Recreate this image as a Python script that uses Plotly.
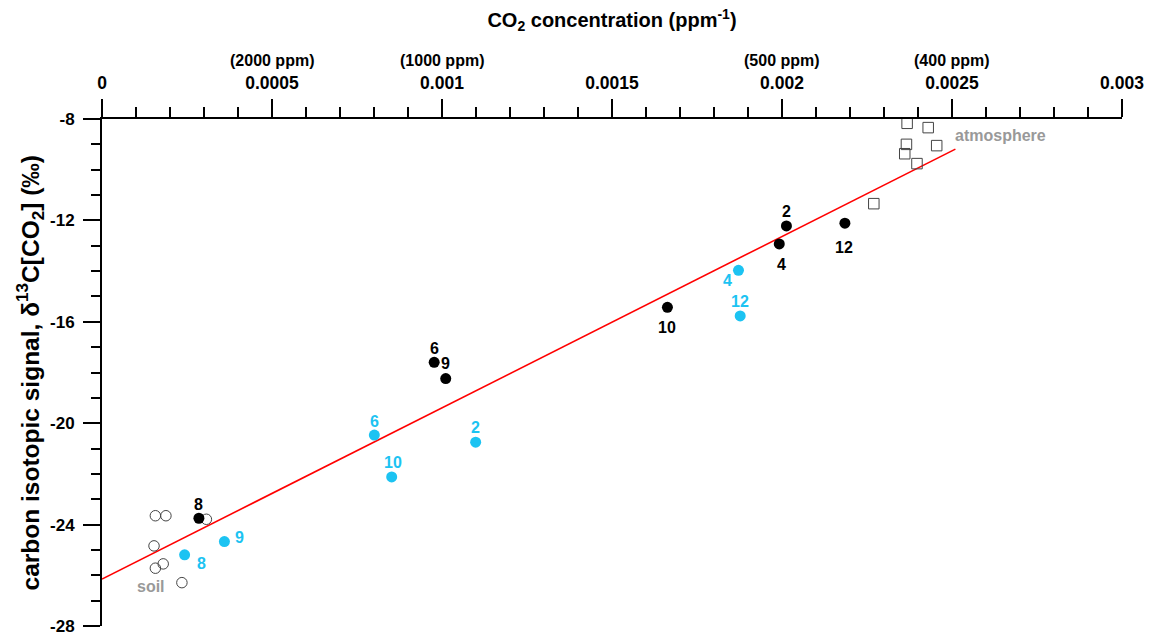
import plotly.graph_objects as go

# ---- data ----
# CO2 concentration (ppm^-1) and d13C[CO2] (permil)
black_x = [0.002013, 0.001992, 0.002185, 0.001663, 0.000977, 0.001011, 0.000285]
black_y = [-12.22, -12.93, -12.11, -15.43, -17.60, -18.24, -23.75]
black_lbl = ["2", "4", "12", "10", "6", "9", "8"]

cyan_x = [0.001099, 0.001872, 0.001877, 0.000801, 0.000852, 0.000243, 0.000360]
cyan_y = [-20.75, -13.97, -15.77, -20.47, -22.12, -25.19, -24.67]
cyan_lbl = ["2", "4", "12", "6", "10", "8", "9"]

soil_x = [0.000157, 0.000188, 0.000307, 0.000153, 0.000180, 0.000157, 0.000235]
soil_y = [-23.65, -23.65, -23.79, -24.84, -25.55, -25.72, -26.29]

atm_x = [0.002368, 0.002430, 0.002366, 0.002455, 0.002361, 0.002397, 0.002270]
atm_y = [-8.17, -8.34, -9.00, -9.05, -9.37, -9.76, -11.34]

fit_intercept = -26.15
fit_slope = 6758.0
fit_x = [0.0, 0.00251]

x_tickvals = [0, 0.0005, 0.001, 0.0015, 0.002, 0.0025, 0.003]
x_ticktext = ["0", "0.0005", "0.001", "0.0015", "0.002", "0.0025", "0.003"]
ppm_pos = [0.0005, 0.001, 0.002, 0.0025]
ppm_text = ["(2000 ppm)", "(1000 ppm)", "(500 ppm)", "(400 ppm)"]
y_tickvals = [-8, -12, -16, -20, -24, -28]
y_ticktext = ["-8", "-12", "-16", "-20", "-24", "-28"]
y_title = "carbon isotopic signal, δ<sup>13</sup>C[CO<sub>2</sub>] (‰)"
x_title = "CO<sub>2</sub> concentration (ppm<sup>-1</sup>)"

# ---- styles ----
FONT = "Liberation Sans, Arial, sans-serif"
CYAN = "#1CC3F2"
# label offsets from the marker, in pixels (dx right, dy down)
black_off = [(0, -14), (2, 21), (-1, 24), (0, 20), (0, -14), (0, -15), (0, -14)]
cyan_off = [(0, -15), (-11, 10), (0, -14), (0, -14), (1, -14), (17, 9), (15, -4)]

fig = go.Figure()

fig.add_trace(go.Scatter(
    x=fit_x, y=[fit_intercept + fit_slope * v for v in fit_x],
    mode="lines", line=dict(color="#FF0000", width=1.6),
    hoverinfo="skip", showlegend=False))

fig.add_trace(go.Scatter(
    x=soil_x, y=soil_y, mode="markers",
    marker=dict(symbol="circle-open", size=10.5, color="#444444",
                line=dict(width=1, color="#444444")),
    showlegend=False, cliponaxis=False))

fig.add_trace(go.Scatter(
    x=atm_x, y=atm_y, mode="markers",
    marker=dict(symbol="square-open", size=10.5, color="#444444",
                line=dict(width=1, color="#444444")),
    showlegend=False, cliponaxis=False))

fig.add_trace(go.Scatter(
    x=black_x, y=black_y, mode="markers",
    marker=dict(symbol="circle", size=11, color="black"),
    showlegend=False, cliponaxis=False))

fig.add_trace(go.Scatter(
    x=cyan_x, y=cyan_y, mode="markers",
    marker=dict(symbol="circle", size=11, color=CYAN),
    showlegend=False, cliponaxis=False))

for xs, ys, lbls, offs, col in [(black_x, black_y, black_lbl, black_off, "black"),
                                 (cyan_x, cyan_y, cyan_lbl, cyan_off, CYAN)]:
    for xv, yv, t, (dx, dy) in zip(xs, ys, lbls, offs):
        fig.add_annotation(x=xv, y=yv, xref="x", yref="y", text=t,
                           showarrow=False, xshift=dx, yshift=-dy,
                           xanchor="center", yanchor="middle",
                           font=dict(family=FONT, size=16, color=col, weight="bold"))

for p, t in zip(ppm_pos, ppm_text):
    fig.add_annotation(x=p, y=1.115, xref="x", yref="paper", text=t,
                       showarrow=False, yanchor="middle",
                       font=dict(family=FONT, size=16, color="black", weight="bold"))

fig.add_annotation(x=0.002502, y=-8.66, xref="x", yref="y", text="atmosphere",
                   showarrow=False, xanchor="left", yanchor="middle",
                   font=dict(family=FONT, size=16, color="#999999", weight="bold"))
fig.add_annotation(x=0.000098, y=-26.46, xref="x", yref="y", text="soil",
                   showarrow=False, xanchor="left", yanchor="middle",
                   font=dict(family=FONT, size=16, color="#999999", weight="bold"))

# y-axis title
fig.add_annotation(x=-0.0706, y=0.5, xref="paper", yref="paper", text=y_title,
                   textangle=-90, showarrow=False, xanchor="center", yanchor="middle",
                   font=dict(family=FONT, size=24.5, color="black", weight="bold"))

fig.update_layout(
    width=1150, height=636,
    margin=dict(l=102, r=28, t=119, b=10),
    paper_bgcolor="white", plot_bgcolor="white",
    font=dict(family=FONT, color="black"),
    xaxis=dict(
        side="top", range=[0, 0.003], showgrid=False, zeroline=False,
        automargin=False,
        showline=True, linecolor="black", linewidth=2,
        ticks="outside", ticklen=18, tickwidth=1.5, tickcolor="black",
        tickvals=x_tickvals, ticktext=x_ticktext, ticklabelstandoff=3,
        tickfont=dict(family=FONT, size=17.5, weight="bold"),
        minor=dict(dtick=0.0001, ticks="outside", ticklen=10, tickwidth=1.5,
                   tickcolor="black", showgrid=False),
        title=dict(text=x_title,
                   font=dict(family=FONT, size=20, weight="bold"), standoff=40),
    ),
    yaxis=dict(
        range=[-28, -8], showgrid=False, zeroline=False,
        automargin=False,
        showline=True, linecolor="black", linewidth=2,
        ticks="outside", ticklen=17, tickwidth=1.5, tickcolor="black",
        tickvals=y_tickvals, ticktext=y_ticktext, ticklabelstandoff=5,
        tickfont=dict(family=FONT, size=17, weight="bold"),
        minor=dict(dtick=1, ticks="outside", ticklen=9, tickwidth=1.5,
                   tickcolor="black", showgrid=False),
    ),
)

# remove the browser's default page margin so the figure sits at the window origin
fig.write_html("out.html", config={"displayModeBar": False},
               post_script="document.body.style.margin='0';"
                           "document.body.style.overflow='hidden';")
